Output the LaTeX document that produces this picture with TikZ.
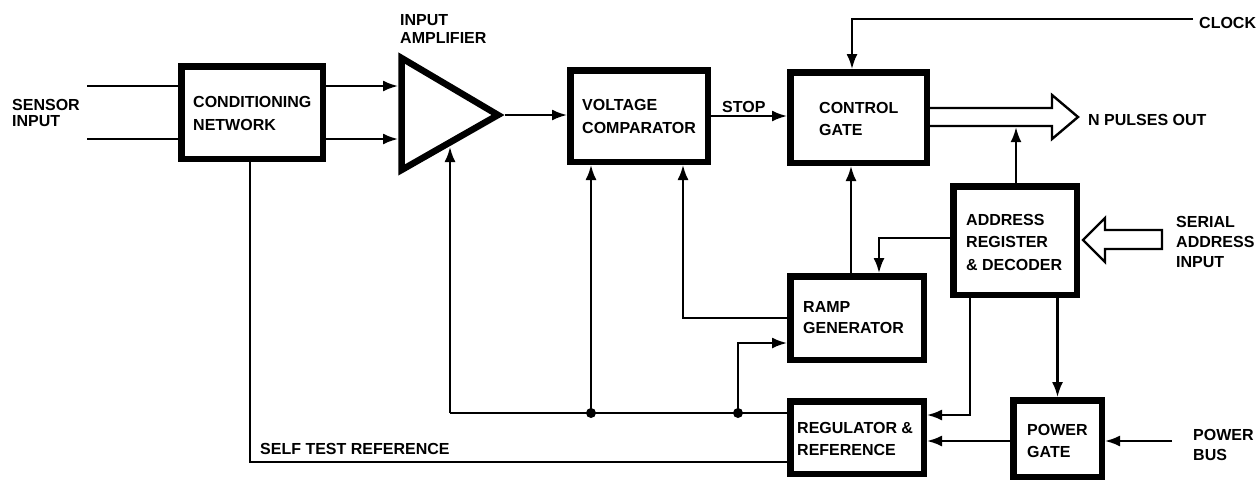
\documentclass[tikz,border=0pt]{standalone}
\usepackage{fontspec}
\setmainfont{Liberation Sans}
\usetikzlibrary{arrows.meta}
\begin{document}
\begin{tikzpicture}[x=1pt,y=-1pt,
  box/.style={draw,line width=6.5pt,rectangle,inner sep=0pt,outer sep=3.25pt},
  lbl/.style={inner sep=0pt,anchor=base west,font=\fontsize{16}{19}\selectfont\bfseries},
  wire/.style={line width=2.1pt},
  arr/.style={wire,-{Latex[length=15pt,width=11pt]}},
  hollow/.style={line width=2.4pt,line join=miter},
  dot/.style={circle,fill,inner sep=0pt,minimum size=10pt}]
\useasboundingbox (0,0) rectangle (1256,483);

% blocks
\node[box,minimum width=141.5pt,minimum height=92.5pt] (cond) at (252,112.5) {};
\node[box,minimum width=137.5pt,minimum height=91.5pt] (cmp) at (639,116) {};
\node[box,minimum width=136.5pt,minimum height=90.5pt] (ctl) at (858.5,117.5) {};
\node[box,minimum width=123.5pt,minimum height=108.5pt] (addr) at (1015,240.5) {};
\node[box,minimum width=133.5pt,minimum height=83.5pt] (ramp) at (857,318) {};
\node[box,minimum width=133.5pt,minimum height=72.5pt] (reg) at (857,437.5) {};
\node[box,minimum width=88.5pt,minimum height=76.5pt] (pwr) at (1057.5,438.5) {};

% amplifier
\coordinate (ampT) at (401.5,58);
\coordinate (ampB) at (401.5,170);
\coordinate (ampP) at (498,115);
\draw[line width=6.5pt,line join=miter] (ampT) -- (ampB) -- (ampP) -- cycle;
\coordinate (ai1) at (398,86);
\coordinate (ai2) at (398,139);
\coordinate (ao) at (504.5,115);
\coordinate (ab) at (450,147);

% labels
\node[lbl] (tsen1) at (12,110) {SENSOR};
\node[lbl] (tsen2) at (12,126) {INPUT};
\node[lbl] (tcond1) at (193,107) {CONDITIONING};
\node[lbl] (tcond2) at (193,130) {NETWORK};
\node[lbl] (tamp1) at (400,25) {INPUT};
\node[lbl] (tamp2) at (400,43) {AMPLIFIER};
\node[lbl] (tcmp1) at (582,110) {VOLTAGE};
\node[lbl] (tcmp2) at (582,133) {COMPARATOR};
\node[lbl] (tstop) at (722,112) {STOP};
\node[lbl] (tctl1) at (819,113) {CONTROL};
\node[lbl] (tctl2) at (819,135) {GATE};
\node[lbl] (tclk) at (1199,28) {CLOCK};
\node[lbl] (tnp) at (1088,125) {N PULSES OUT};
\node[lbl] (tadr1) at (966,225) {ADDRESS};
\node[lbl] (tadr2) at (966,247) {REGISTER};
\node[lbl] (tadr3) at (966,270) {\& DECODER};
\node[lbl] (tser1) at (1176,227) {SERIAL};
\node[lbl] (tser2) at (1176,247) {ADDRESS};
\node[lbl] (tser3) at (1176,267) {INPUT};
\node[lbl] (tramp1) at (803,312) {RAMP};
\node[lbl] (tramp2) at (803,333) {GENERATOR};
\node[lbl] (treg1) at (797,433) {REGULATOR \&};
\node[lbl] (treg2) at (797,455) {REFERENCE};
\node[lbl] (tpwr1) at (1027,435) {POWER};
\node[lbl] (tpwr2) at (1027,457) {GATE};
\node[lbl] (tbus1) at (1193,440) {POWER};
\node[lbl] (tbus2) at (1193,460) {BUS};
\node[lbl] (tself) at (260,454) {SELF TEST REFERENCE};

% sensor inputs
\coordinate (s1) at (87,86);
\coordinate (s2) at (87,139);
\draw[wire] (s1) -- (s1 -| cond.west);
\draw[wire] (s2) -- (s2 -| cond.west);
% conditioning -> amplifier
\draw[arr] (ai1 -| cond.east) -- (ai1);
\draw[arr] (ai2 -| cond.east) -- (ai2);
% amplifier -> comparator
\draw[arr] (ao) -- (ao -| cmp.west);
% comparator -> control gate
\draw[arr] (cmp.east) -- (cmp.east -| ctl.west);
% clock
\coordinate (clk) at (1193,19);
\coordinate (clkd) at (852,19);
\draw[arr] (clk) -- (clkd) -- (clkd |- ctl.north);
% N pulses out (hollow arrow)
\coordinate (np1) at (1052,108);
\coordinate (np2) at (1052,126);
\coordinate (nptip) at (1078,117);
\draw[hollow] (np1 -| ctl.east) -- (np1) -- (1052,95) -- (nptip) -- (1052,139) -- (np2) -- (np2 -| ctl.east);
% address -> N pulses
\coordinate (npin) at (1016,127.2);
\draw[arr] (npin |- addr.north) -- (npin);
% serial address input (hollow arrow)
\coordinate (satip) at (1083,240);
\draw[hollow] (1162,230) -- (1105,230) -- (1105,218) -- (satip) -- (1105,262) -- (1105,249) -- (1162,249) -- cycle;
% ramp -> control gate
\coordinate (rc) at (851,0);
\draw[arr] (rc |- ramp.north) -- (rc |- ctl.south);
% ramp -> comparator
\coordinate (rcmp) at (683,0);
\draw[arr] (ramp.west) -| (rcmp |- cmp.south);
% address -> ramp
\coordinate (ar) at (879,238);
\draw[arr] (ar -| addr.west) -- (ar) -- (ar |- ramp.north);
% address -> regulator
\coordinate (areg) at (970,415);
\draw[arr] (areg |- addr.south) -- (areg) -- (areg -| reg.east);
% address -> power gate
\draw[arr] (pwr.north |- addr.south) -- (pwr.north);
% power gate -> regulator
\coordinate (pg) at (0,441);
\draw[arr] (pg -| pwr.west) -- (pg -| reg.east);
% power bus
\coordinate (pbus) at (1172,441);
\draw[arr] (pbus) -- (pbus -| pwr.east);
% regulator feedback bus
\coordinate (fb) at (450,413);
\node[dot] (d1) at (591,413) {};
\node[dot] (d2) at (738,413) {};
\draw[wire] (fb -| reg.west) -- (fb);
\draw[arr] (fb) -- (ab);
\draw[arr] (d1.center) -- (d1.center |- cmp.south);
\coordinate (rin) at (738,343);
\draw[arr] (d2.center) -- (rin) -- (rin -| ramp.west);
% self test reference
\coordinate (st) at (250,462);
\draw[wire] (st |- cond.south) -- (st) -- (st -| reg.west);
\end{tikzpicture}
\end{document}
